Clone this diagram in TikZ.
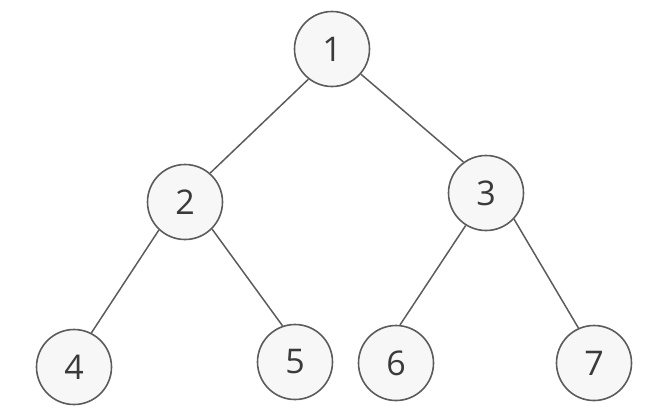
\documentclass[tikz,border=0pt]{standalone}
\usepackage{fontspec}
\setmainfont{Open Sans}
\definecolor{edgegray}{HTML}{5C5C5C}
\definecolor{nodefill}{HTML}{F7F7F7}
\definecolor{textgray}{HTML}{3A3A3A}
\begin{document}
\begin{tikzpicture}[x=1pt,y=-1pt,
  treenode/.style={circle,draw=edgegray,line width=1.6pt,fill=nodefill,minimum size=75pt,inner sep=0pt,text=textgray,font=\fontsize{34}{40}\selectfont},
  treeedge/.style={draw=edgegray,line width=1.5pt}]
\useasboundingbox (0,0) rectangle (668,416);
\node[treenode] (n1) at (332,49) {1};
\node[treenode] (n2) at (185,202) {2};
\node[treenode] (n3) at (486,193) {3};
\node[treenode] (n4) at (74,367) {4};
\node[treenode] (n5) at (295,362) {5};
\node[treenode] (n6) at (396,363) {6};
\node[treenode] (n7) at (594,363) {7};
\draw[treeedge] (n1.232) -- (n2.49);
\draw[treeedge] (n1.319) -- (n3.126);
\draw[treeedge] (n2.227) -- (n4.63);
\draw[treeedge] (n2.315) -- (n5.109);
\draw[treeedge] (n3.238) -- (n6.84);
\draw[treeedge] (n3.317) -- (n7.114);
\end{tikzpicture}
\end{document}
